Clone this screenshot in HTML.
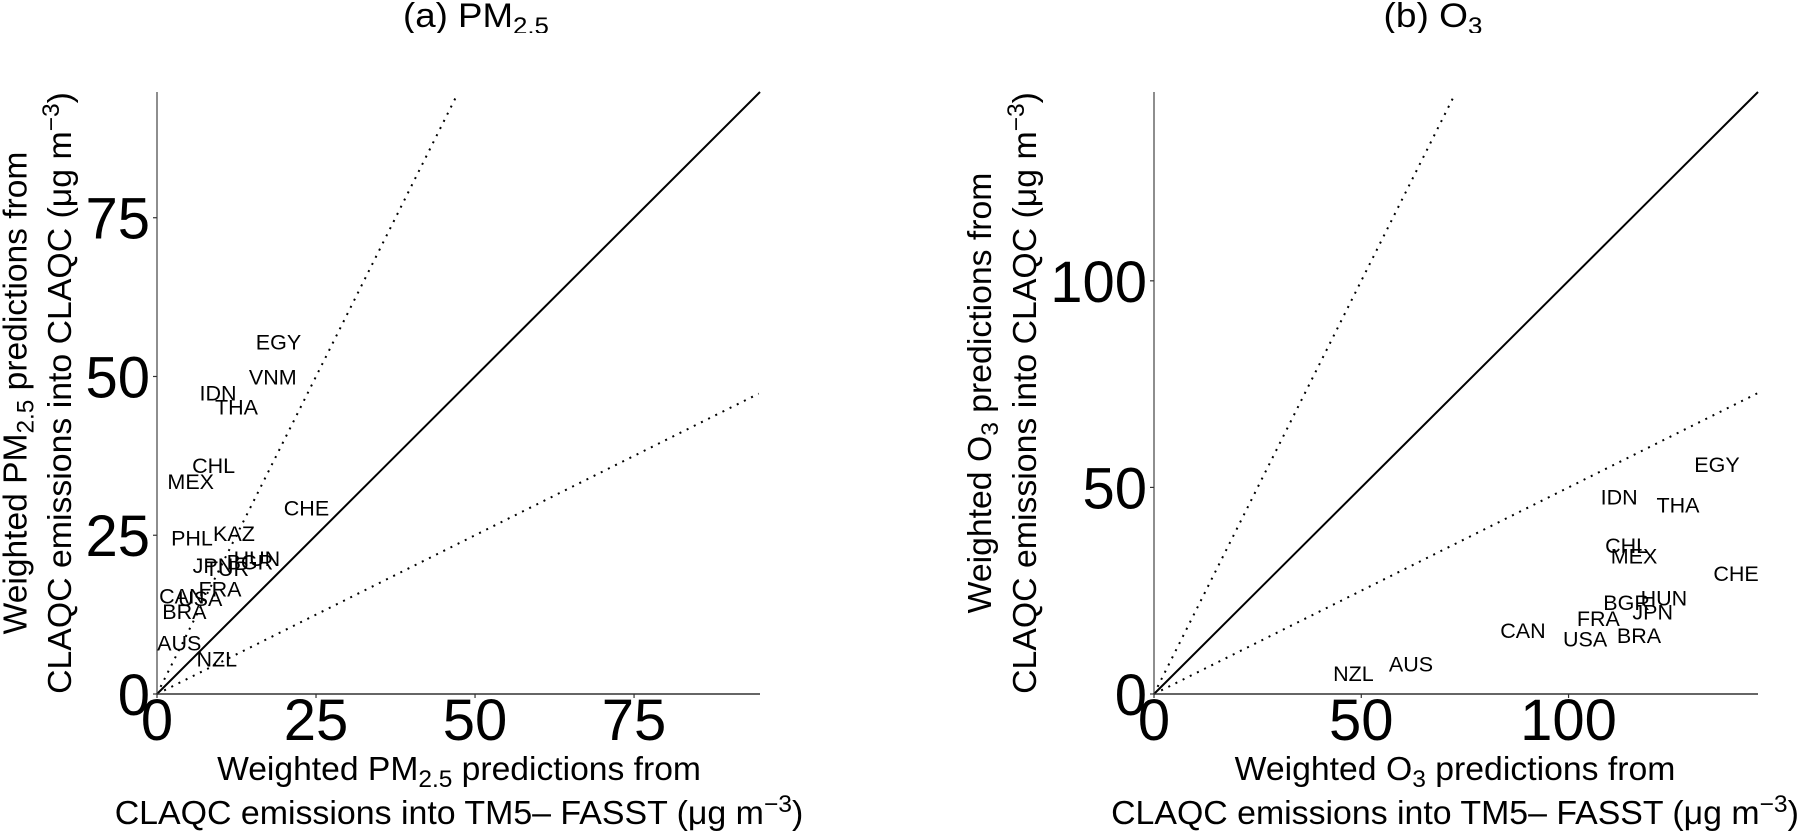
<!DOCTYPE html>
<html lang="en">
<head>
<meta charset="utf-8">
<title>Weighted PM2.5 and O3 predictions</title>
<style>
  html, body { margin: 0; padding: 0; background: #fff; }
  svg { display: block; font-family: "Liberation Sans", Arial, sans-serif; fill: #000; }
  .tick { font-size: 58px; }
  .lab { font-size: 21.5px; }
  .ax { font-size: 33px; }
  .ttl { font-size: 34px; }
</style>
</head>
<body>
<svg id="fig" xmlns="http://www.w3.org/2000/svg" width="1801" height="834" viewBox="0 0 1801 834">
  <defs>
    <clipPath id="title-clip"><rect x="0" y="0" width="1801" height="33"/></clipPath>
  </defs>
  <rect x="0" y="0" width="1801" height="834" fill="#fff"/>

  <g clip-path="url(#title-clip)">
    <text class="ttl" data-fit="146" x="476" y="27" text-anchor="middle">(a) PM<tspan dy="7" font-size="24">2.5</tspan></text>
    <text class="ttl" data-fit="99" x="1433" y="27" text-anchor="middle">(b) O<tspan dy="7" font-size="24">3</tspan></text>
  </g>

  <g id="panel-a"></g>
  <g id="panel-b"></g>

  <text class="ax" data-fit="484" x="459" y="780" text-anchor="middle">Weighted PM<tspan dy="7" font-size="24">2.5</tspan><tspan dy="-7"> predictions from</tspan></text>
  <text class="ax" data-fit="689" x="459" y="824" text-anchor="middle">CLAQC emissions into TM5– FASST (μg m<tspan dy="-12" font-size="24">−3</tspan><tspan dy="12">)</tspan></text>
  <text class="ax" data-fit="441" x="1455" y="780" text-anchor="middle">Weighted O<tspan dy="7" font-size="24">3</tspan><tspan dy="-7"> predictions from</tspan></text>
  <text class="ax" data-fit="688" x="1455" y="824" text-anchor="middle">CLAQC emissions into TM5– FASST (μg m<tspan dy="-12" font-size="24">−3</tspan><tspan dy="12">)</tspan></text>

  <text class="ax" data-fit="483" data-rot="1" x="26.5" y="393" text-anchor="middle">Weighted PM<tspan dy="7" font-size="24">2.5</tspan><tspan dy="-7"> predictions from</tspan></text>
  <text class="ax" data-fit="602" data-rot="1" x="71" y="393" text-anchor="middle">CLAQC emissions into CLAQC (μg m<tspan dy="-12" font-size="24">−3</tspan><tspan dy="12">)</tspan></text>
  <text class="ax" data-fit="441" data-rot="1" x="991" y="393" text-anchor="middle">Weighted O<tspan dy="7" font-size="24">3</tspan><tspan dy="-7"> predictions from</tspan></text>
  <text class="ax" data-fit="602" data-rot="1" x="1036" y="393" text-anchor="middle">CLAQC emissions into CLAQC (μg m<tspan dy="-12" font-size="24">−3</tspan><tspan dy="12">)</tspan></text>
</svg>

<script>
const pmCountries = ["EGY","VNM","IDN","THA","CHL","MEX","CHE","PHL","KAZ","HUN","BGR","JPN","TUR","FRA","CAN","USA","BRA","AUS","NZL"];
const pmX = [19.1,18.2,9.6,12.5,8.9,5.3,23.5,5.5,12.1,15.7,14.6,8.8,11.0,9.9,3.9,6.8,4.3,3.5,9.4];
const pmY = [55.4,49.9,47.4,45.2,36.0,33.5,29.3,24.6,25.3,21.3,20.8,20.2,19.8,16.5,15.4,15.0,13.0,8.0,5.5];
const pmTicks = [0,25,50,75];
const pmMax = 94.8;

const o3Countries = ["EGY","IDN","THA","CHL","MEX","CHE","HUN","BGR","JPN","FRA","CAN","USA","BRA","AUS","NZL"];
const o3X = [135.8,112.2,126.4,114.0,115.8,140.4,123.0,114.0,120.3,107.2,89.0,104.0,117.0,62.0,48.1];
const o3Y = [55.6,47.7,45.7,35.9,33.4,29.2,23.2,22.1,19.8,18.3,15.4,13.3,14.2,7.3,5.0];
const o3Ticks = [0,50,100];
const o3Max = 145.7;

const refSlopes = [1, 2, 0.5];
const NS = "http://www.w3.org/2000/svg";

function make(parent, tag, attrs) {
  const el = document.createElementNS(NS, tag);
  for (const k in attrs) el.setAttribute(k, attrs[k]);
  parent.appendChild(el);
  return el;
}

function drawPanel(root, prefix, box, maxVal, ticks, names, xs, ys) {
  const sx = v => box.left + v * (box.right - box.left) / maxVal;
  const sy = v => box.bottom - v * (box.bottom - box.top) / maxVal;

  refSlopes.forEach(function (slope) {
    const endX = slope > 1 ? (maxVal - 0.4) / slope : (slope === 1 ? maxVal : maxVal - 0.2);
    const ln = make(root, "line", {
      x1: sx(0), y1: sy(0), x2: sx(endX), y2: sy(endX * slope),
      stroke: "#000",
      "stroke-width": 2,
      "stroke-dasharray": slope === 1 ? "none" : "2 6"
    });
    
    
  });

  const yAxis = make(root, "line", { x1: box.left, y1: box.top, x2: box.left, y2: box.bottom, stroke: "#444", "stroke-width": 1.2 });
  
  
  const xAxis = make(root, "line", { x1: box.left, y1: box.bottom, x2: box.right, y2: box.bottom, stroke: "#333", "stroke-width": 1.6 });
  
  

  ticks.forEach(function (t) {
    const xm = make(root, "line", { x1: sx(t), y1: box.bottom, x2: sx(t), y2: box.bottom + 4, stroke: "#333", "stroke-width": 1.2 });
    
    
    const ym = make(root, "line", { x1: box.left - 4, y1: sy(t), x2: box.left, y2: sy(t), stroke: "#333", "stroke-width": 1.2 });
    
    

    const xl = make(root, "text", { class: "tick", x: sx(t), y: box.bottom + 46, "text-anchor": "middle" });
    xl.textContent = t;
    
    
    const yl = make(root, "text", { class: "tick", x: box.left - 7, y: sy(t) + 21, "text-anchor": "end" });
    yl.textContent = t;
    
    
  });

  names.forEach(function (name, i) {
    const lb = make(root, "text", { class: "lab", x: sx(xs[i]), y: sy(ys[i]) + 7.5, "text-anchor": "middle" });
    lb.textContent = name;
    
    
  });
}

drawPanel(document.getElementById("panel-a"), "a",
  { left: 157, right: 760, top: 92, bottom: 694 }, pmMax, pmTicks, pmCountries, pmX, pmY);
drawPanel(document.getElementById("panel-b"), "b",
  { left: 1154, right: 1758, top: 92, bottom: 694 }, o3Max, o3Ticks, o3Countries, o3X, o3Y);

document.querySelectorAll("text[data-fit]").forEach(function (el) {
  const target = parseFloat(el.getAttribute("data-fit"));
  const x = parseFloat(el.getAttribute("x"));
  const y = parseFloat(el.getAttribute("y"));
  const scale = target / el.getComputedTextLength();
  el.setAttribute("x", 0);
  el.setAttribute("y", 0);
  const rot = el.getAttribute("data-rot") ? " rotate(-90)" : "";
  el.setAttribute("transform", "translate(" + x + " " + y + ")" + rot + " scale(" + scale.toFixed(4) + " 1)");
});
</script>
</body>
</html>
